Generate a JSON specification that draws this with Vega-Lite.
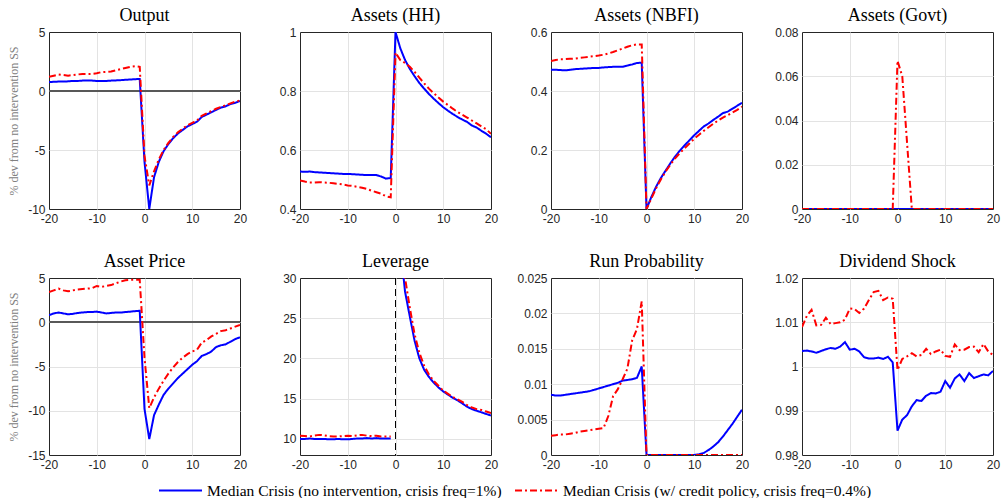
{
  "$schema": "https://vega.github.io/schema/vega-lite/v6.json",
  "padding": {"left": 7, "top": 6, "right": 0, "bottom": 28},
  "autosize": {"type": "pad"},
  "background": "white",
  "config": {
    "view": {"stroke": "#262626", "strokeWidth": 1},
    "title": {"font": "Liberation Serif", "fontSize": 18, "fontWeight": "normal", "color": "#000000", "offset": 1},
    "axis": {"labelFont": "Liberation Sans", "labelFontSize": 12, "labelColor": "#262626", "domain": false, "ticks": false, "grid": true, "gridColor": "#e3e3e3", "gridWidth": 1, "labelPadding": 4, "title": null},
    "axisX": {"labelFlush": false, "labelPadding": 4, "gridOpacity": {"condition": {"test": "abs(datum.value) == 20", "value": 0}, "value": 1}},
    "axisY": {"titleFont": "Liberation Serif", "titleFontSize": 12, "titleColor": "#808080", "titleFontWeight": "normal", "titlePadding": 7}
  },
  "data": {"values": [
    {"p":"O","t":-20,"a":0.75,"b":1.2},{"p":"O","t":-19,"a":0.78,"b":1.3},{"p":"O","t":-18,"a":0.8,"b":1.4},{"p":"O","t":-17,"a":0.8,"b":1.35},{"p":"O","t":-16,"a":0.82,"b":1.3},{"p":"O","t":-15,"a":0.85,"b":1.35},{"p":"O","t":-14,"a":0.85,"b":1.4},{"p":"O","t":-13,"a":0.88,"b":1.45},{"p":"O","t":-12,"a":0.9,"b":1.45},{"p":"O","t":-11,"a":0.88,"b":1.45},{"p":"O","t":-10,"a":0.85,"b":1.5},{"p":"O","t":-9,"a":0.85,"b":1.6},{"p":"O","t":-8,"a":0.85,"b":1.62},{"p":"O","t":-7,"a":0.88,"b":1.65},{"p":"O","t":-6,"a":0.9,"b":1.75},{"p":"O","t":-5,"a":0.92,"b":1.85},{"p":"O","t":-4,"a":0.95,"b":1.95},{"p":"O","t":-3,"a":0.97,"b":2.05},{"p":"O","t":-2,"a":1.0,"b":2.1},{"p":"O","t":-1,"a":1.02,"b":2.05},
    {"p":"O","t":0,"a":-6.0,"b":-5.5},{"p":"O","t":1,"a":-10,"b":-8.0},{"p":"O","t":2,"a":-7.3,"b":-6.8},{"p":"O","t":3,"a":-6.0,"b":-5.8},{"p":"O","t":4,"a":-5.1,"b":-5.0},{"p":"O","t":5,"a":-4.5,"b":-4.4},{"p":"O","t":6,"a":-4.0,"b":-3.9},{"p":"O","t":7,"a":-3.6,"b":-3.5},{"p":"O","t":8,"a":-3.3,"b":-3.2},{"p":"O","t":9,"a":-3.0,"b":-2.9},{"p":"O","t":10,"a":-2.8,"b":-2.7},{"p":"O","t":11,"a":-2.6,"b":-2.5},{"p":"O","t":12,"a":-2.2,"b":-2.1},{"p":"O","t":13,"a":-2.0,"b":-1.9},{"p":"O","t":14,"a":-1.8,"b":-1.7},{"p":"O","t":15,"a":-1.6,"b":-1.5},{"p":"O","t":16,"a":-1.4,"b":-1.35},{"p":"O","t":17,"a":-1.3,"b":-1.2},{"p":"O","t":18,"a":-1.1,"b":-1.05},{"p":"O","t":19,"a":-1.0,"b":-0.9},{"p":"O","t":20,"a":-0.85,"b":-0.8},

    {"p":"HH","t":-20,"a":0.527,"b":0.497},{"p":"HH","t":-19,"a":0.526,"b":0.493},{"p":"HH","t":-18,"a":0.527,"b":0.49},{"p":"HH","t":-17,"a":0.525,"b":0.49},{"p":"HH","t":-16,"a":0.524,"b":0.491},{"p":"HH","t":-15,"a":0.523,"b":0.49},{"p":"HH","t":-14,"a":0.522,"b":0.489},{"p":"HH","t":-13,"a":0.521,"b":0.487},{"p":"HH","t":-12,"a":0.52,"b":0.485},{"p":"HH","t":-11,"a":0.519,"b":0.483},{"p":"HH","t":-10,"a":0.519,"b":0.48},{"p":"HH","t":-9,"a":0.518,"b":0.478},{"p":"HH","t":-8,"a":0.517,"b":0.475},{"p":"HH","t":-7,"a":0.516,"b":0.472},{"p":"HH","t":-6,"a":0.515,"b":0.468},{"p":"HH","t":-5,"a":0.515,"b":0.462},{"p":"HH","t":-4,"a":0.515,"b":0.457},{"p":"HH","t":-3,"a":0.51,"b":0.452},{"p":"HH","t":-2,"a":0.503,"b":0.443},{"p":"HH","t":-1,"a":0.505,"b":0.44},
    {"p":"HH","t":0,"a":1.0,"b":0.93},{"p":"HH","t":1,"a":0.945,"b":0.905},{"p":"HH","t":2,"a":0.905,"b":0.895},{"p":"HH","t":3,"a":0.875,"b":0.882},{"p":"HH","t":4,"a":0.85,"b":0.865},{"p":"HH","t":5,"a":0.827,"b":0.845},{"p":"HH","t":6,"a":0.808,"b":0.826},{"p":"HH","t":7,"a":0.79,"b":0.808},{"p":"HH","t":8,"a":0.774,"b":0.793},{"p":"HH","t":9,"a":0.759,"b":0.778},{"p":"HH","t":10,"a":0.745,"b":0.764},{"p":"HH","t":11,"a":0.733,"b":0.752},{"p":"HH","t":12,"a":0.722,"b":0.74},{"p":"HH","t":13,"a":0.712,"b":0.729},{"p":"HH","t":14,"a":0.703,"b":0.719},{"p":"HH","t":15,"a":0.695,"b":0.71},{"p":"HH","t":16,"a":0.683,"b":0.7},{"p":"HH","t":17,"a":0.676,"b":0.69},{"p":"HH","t":18,"a":0.665,"b":0.68},{"p":"HH","t":19,"a":0.655,"b":0.67},{"p":"HH","t":20,"a":0.643,"b":0.655},

    {"p":"NB","t":-20,"a":0.472,"b":0.502},{"p":"NB","t":-19,"a":0.472,"b":0.505},{"p":"NB","t":-18,"a":0.471,"b":0.508},{"p":"NB","t":-17,"a":0.47,"b":0.508},{"p":"NB","t":-16,"a":0.472,"b":0.509},{"p":"NB","t":-15,"a":0.474,"b":0.51},{"p":"NB","t":-14,"a":0.475,"b":0.512},{"p":"NB","t":-13,"a":0.476,"b":0.514},{"p":"NB","t":-12,"a":0.477,"b":0.516},{"p":"NB","t":-11,"a":0.478,"b":0.518},{"p":"NB","t":-10,"a":0.478,"b":0.52},{"p":"NB","t":-9,"a":0.48,"b":0.523},{"p":"NB","t":-8,"a":0.481,"b":0.527},{"p":"NB","t":-7,"a":0.482,"b":0.532},{"p":"NB","t":-6,"a":0.482,"b":0.538},{"p":"NB","t":-5,"a":0.482,"b":0.544},{"p":"NB","t":-4,"a":0.486,"b":0.55},{"p":"NB","t":-3,"a":0.49,"b":0.555},{"p":"NB","t":-2,"a":0.495,"b":0.558},{"p":"NB","t":-1,"a":0.496,"b":0.558},
    {"p":"NB","t":0,"a":0,"b":0},{"p":"NB","t":1,"a":0.04,"b":0.035},{"p":"NB","t":2,"a":0.075,"b":0.07},{"p":"NB","t":3,"a":0.105,"b":0.1},{"p":"NB","t":4,"a":0.13,"b":0.127},{"p":"NB","t":5,"a":0.155,"b":0.15},{"p":"NB","t":6,"a":0.178,"b":0.172},{"p":"NB","t":7,"a":0.198,"b":0.19},{"p":"NB","t":8,"a":0.216,"b":0.206},{"p":"NB","t":9,"a":0.233,"b":0.222},{"p":"NB","t":10,"a":0.25,"b":0.238},{"p":"NB","t":11,"a":0.265,"b":0.252},{"p":"NB","t":12,"a":0.28,"b":0.265},{"p":"NB","t":13,"a":0.29,"b":0.277},{"p":"NB","t":14,"a":0.302,"b":0.289},{"p":"NB","t":15,"a":0.313,"b":0.3},{"p":"NB","t":16,"a":0.325,"b":0.31},{"p":"NB","t":17,"a":0.33,"b":0.318},{"p":"NB","t":18,"a":0.34,"b":0.327},{"p":"NB","t":19,"a":0.35,"b":0.336},{"p":"NB","t":20,"a":0.36,"b":0.347},

    {"p":"G","t":-20,"a":0,"b":0},{"p":"G","t":-19,"a":0,"b":0},{"p":"G","t":-18,"a":0,"b":0},{"p":"G","t":-17,"a":0,"b":0},{"p":"G","t":-16,"a":0,"b":0},{"p":"G","t":-15,"a":0,"b":0},{"p":"G","t":-14,"a":0,"b":0},{"p":"G","t":-13,"a":0,"b":0},{"p":"G","t":-12,"a":0,"b":0},{"p":"G","t":-11,"a":0,"b":0},{"p":"G","t":-10,"a":0,"b":0},{"p":"G","t":-9,"a":0,"b":0},{"p":"G","t":-8,"a":0,"b":0},{"p":"G","t":-7,"a":0,"b":0},{"p":"G","t":-6,"a":0,"b":0},{"p":"G","t":-5,"a":0,"b":0},{"p":"G","t":-4,"a":0,"b":0},{"p":"G","t":-3,"a":0,"b":0},{"p":"G","t":-2,"a":0,"b":0},{"p":"G","t":-1,"a":0,"b":0},
    {"p":"G","t":0,"a":0,"b":0.067},{"p":"G","t":1,"a":0,"b":0.06},{"p":"G","t":2,"a":0,"b":0.03},{"p":"G","t":3,"a":0,"b":0},{"p":"G","t":4,"a":0,"b":0},{"p":"G","t":5,"a":0,"b":0},{"p":"G","t":6,"a":0,"b":0},{"p":"G","t":7,"a":0,"b":0},{"p":"G","t":8,"a":0,"b":0},{"p":"G","t":9,"a":0,"b":0},{"p":"G","t":10,"a":0,"b":0},{"p":"G","t":11,"a":0,"b":0},{"p":"G","t":12,"a":0,"b":0},{"p":"G","t":13,"a":0,"b":0},{"p":"G","t":14,"a":0,"b":0},{"p":"G","t":15,"a":0,"b":0},{"p":"G","t":16,"a":0,"b":0},{"p":"G","t":17,"a":0,"b":0},{"p":"G","t":18,"a":0,"b":0},{"p":"G","t":19,"a":0,"b":0},{"p":"G","t":20,"a":0,"b":0},

    {"p":"AP","t":-20,"a":0.8,"b":3.4},{"p":"AP","t":-19,"a":1.0,"b":3.6},{"p":"AP","t":-18,"a":1.1,"b":3.8},{"p":"AP","t":-17,"a":1.0,"b":3.6},{"p":"AP","t":-16,"a":0.9,"b":3.5},{"p":"AP","t":-15,"a":0.95,"b":3.6},{"p":"AP","t":-14,"a":1.05,"b":3.7},{"p":"AP","t":-13,"a":1.1,"b":3.75},{"p":"AP","t":-12,"a":1.15,"b":3.8},{"p":"AP","t":-11,"a":1.15,"b":3.85},{"p":"AP","t":-10,"a":1.2,"b":4.1},{"p":"AP","t":-9,"a":1.1,"b":4.0},{"p":"AP","t":-8,"a":1.0,"b":4.1},{"p":"AP","t":-7,"a":1.05,"b":4.2},{"p":"AP","t":-6,"a":1.1,"b":4.4},{"p":"AP","t":-5,"a":1.1,"b":4.6},{"p":"AP","t":-4,"a":1.15,"b":4.75},{"p":"AP","t":-3,"a":1.2,"b":4.8},{"p":"AP","t":-2,"a":1.25,"b":4.8},{"p":"AP","t":-1,"a":1.3,"b":4.8},
    {"p":"AP","t":0,"a":-9.8,"b":-4.0},{"p":"AP","t":1,"a":-13.2,"b":-9.7},{"p":"AP","t":2,"a":-10.5,"b":-8.5},{"p":"AP","t":3,"a":-9.3,"b":-7.5},{"p":"AP","t":4,"a":-8.2,"b":-6.6},{"p":"AP","t":5,"a":-7.5,"b":-5.8},{"p":"AP","t":6,"a":-6.9,"b":-5.1},{"p":"AP","t":7,"a":-6.3,"b":-4.5},{"p":"AP","t":8,"a":-5.8,"b":-4.0},{"p":"AP","t":9,"a":-5.3,"b":-3.6},{"p":"AP","t":10,"a":-4.8,"b":-3.3},{"p":"AP","t":11,"a":-4.4,"b":-3.1},{"p":"AP","t":12,"a":-3.8,"b":-2.3},{"p":"AP","t":13,"a":-3.6,"b":-2.0},{"p":"AP","t":14,"a":-3.3,"b":-1.6},{"p":"AP","t":15,"a":-2.8,"b":-1.3},{"p":"AP","t":16,"a":-2.6,"b":-1.0},{"p":"AP","t":17,"a":-2.5,"b":-0.9},{"p":"AP","t":18,"a":-2.2,"b":-0.7},{"p":"AP","t":19,"a":-1.9,"b":-0.5},{"p":"AP","t":20,"a":-1.7,"b":-0.3},

    {"p":"L","t":-20,"a":10.0,"b":10.4},{"p":"L","t":-19,"a":10.0,"b":10.35},{"p":"L","t":-18,"a":10.05,"b":10.3},{"p":"L","t":-17,"a":10.0,"b":10.4},{"p":"L","t":-16,"a":10.0,"b":10.5},{"p":"L","t":-15,"a":10.0,"b":10.45},{"p":"L","t":-14,"a":9.95,"b":10.35},{"p":"L","t":-13,"a":9.95,"b":10.3},{"p":"L","t":-12,"a":10.0,"b":10.3},{"p":"L","t":-11,"a":9.95,"b":10.35},{"p":"L","t":-10,"a":9.95,"b":10.4},{"p":"L","t":-9,"a":10.0,"b":10.35},{"p":"L","t":-8,"a":10.05,"b":10.45},{"p":"L","t":-7,"a":10.05,"b":10.5},{"p":"L","t":-6,"a":10.1,"b":10.4},{"p":"L","t":-5,"a":10.05,"b":10.35},{"p":"L","t":-4,"a":10.1,"b":10.4},{"p":"L","t":-3,"a":10.05,"b":10.3},{"p":"L","t":-2,"a":10.05,"b":10.3},{"p":"L","t":-1,"a":10.05,"b":10.3},
    {"p":"L","t":0,"a":null,"b":null},{"p":"L","t":1,"a":34,"b":37},{"p":"L","t":2,"a":28.3,"b":30},{"p":"L","t":3,"a":25.2,"b":26.3},{"p":"L","t":4,"a":22.2,"b":23},{"p":"L","t":5,"a":20.0,"b":20.7},{"p":"L","t":6,"a":18.6,"b":19.1},{"p":"L","t":7,"a":17.7,"b":18.0},{"p":"L","t":8,"a":17.0,"b":17.2},{"p":"L","t":9,"a":16.4,"b":16.6},{"p":"L","t":10,"a":15.9,"b":16.0},{"p":"L","t":11,"a":15.5,"b":15.6},{"p":"L","t":12,"a":15.1,"b":15.2},{"p":"L","t":13,"a":14.8,"b":14.9},{"p":"L","t":14,"a":14.4,"b":14.6},{"p":"L","t":15,"a":14.0,"b":14.2},{"p":"L","t":16,"a":13.7,"b":13.9},{"p":"L","t":17,"a":13.5,"b":13.7},{"p":"L","t":18,"a":13.3,"b":13.6},{"p":"L","t":19,"a":13.1,"b":13.4},{"p":"L","t":20,"a":12.9,"b":13.2},

    {"p":"RP","t":-20,"a":0.0085,"b":0.0027},{"p":"RP","t":-19,"a":0.0084,"b":0.0028},{"p":"RP","t":-18,"a":0.0084,"b":0.0029},{"p":"RP","t":-17,"a":0.0085,"b":0.0029},{"p":"RP","t":-16,"a":0.0086,"b":0.003},{"p":"RP","t":-15,"a":0.0087,"b":0.0031},{"p":"RP","t":-14,"a":0.0088,"b":0.0033},{"p":"RP","t":-13,"a":0.0089,"b":0.0034},{"p":"RP","t":-12,"a":0.009,"b":0.0035},{"p":"RP","t":-11,"a":0.0092,"b":0.0036},{"p":"RP","t":-10,"a":0.0094,"b":0.0037},{"p":"RP","t":-9,"a":0.0096,"b":0.0038},{"p":"RP","t":-8,"a":0.0098,"b":0.0055},{"p":"RP","t":-7,"a":0.01,"b":0.0083},{"p":"RP","t":-6,"a":0.0102,"b":0.0093},{"p":"RP","t":-5,"a":0.0105,"b":0.0107},{"p":"RP","t":-4,"a":0.0106,"b":0.0122},{"p":"RP","t":-3,"a":0.0107,"b":0.0162},{"p":"RP","t":-2,"a":0.0109,"b":0.0178},{"p":"RP","t":-1,"a":0.0125,"b":0.0217},
    {"p":"RP","t":0,"a":0,"b":0},{"p":"RP","t":1,"a":0,"b":0},{"p":"RP","t":2,"a":0,"b":0},{"p":"RP","t":3,"a":0,"b":0},{"p":"RP","t":4,"a":0,"b":0},{"p":"RP","t":5,"a":0,"b":0},{"p":"RP","t":6,"a":0,"b":0},{"p":"RP","t":7,"a":0,"b":0},{"p":"RP","t":8,"a":0,"b":0},{"p":"RP","t":9,"a":0,"b":0},{"p":"RP","t":10,"a":0,"b":0},{"p":"RP","t":11,"a":0.0001,"b":0},{"p":"RP","t":12,"a":0.0003,"b":0},{"p":"RP","t":13,"a":0.0007,"b":0},{"p":"RP","t":14,"a":0.0012,"b":0},{"p":"RP","t":15,"a":0.0018,"b":0},{"p":"RP","t":16,"a":0.0026,"b":0},{"p":"RP","t":17,"a":0.0035,"b":0},{"p":"RP","t":18,"a":0.0044,"b":0},{"p":"RP","t":19,"a":0.0054,"b":0},{"p":"RP","t":20,"a":0.0064,"b":0},

    {"p":"D","t":-20,"a":1.0035,"b":1.0089},{"p":"D","t":-19,"a":1.0036,"b":1.0114},{"p":"D","t":-18,"a":1.0034,"b":1.0128},{"p":"D","t":-17,"a":1.0031,"b":1.0093},{"p":"D","t":-16,"a":1.0035,"b":1.0094},{"p":"D","t":-15,"a":1.0039,"b":1.011},{"p":"D","t":-14,"a":1.0042,"b":1.0096},{"p":"D","t":-13,"a":1.004,"b":1.0098},{"p":"D","t":-12,"a":1.0045,"b":1.01},{"p":"D","t":-11,"a":1.0055,"b":1.0106},{"p":"D","t":-10,"a":1.0038,"b":1.0131},{"p":"D","t":-9,"a":1.004,"b":1.013},{"p":"D","t":-8,"a":1.0034,"b":1.0121},{"p":"D","t":-7,"a":1.0021,"b":1.0131},{"p":"D","t":-6,"a":1.0018,"b":1.015},{"p":"D","t":-5,"a":1.0018,"b":1.0168},{"p":"D","t":-4,"a":1.002,"b":1.0171},{"p":"D","t":-3,"a":1.0017,"b":1.015},{"p":"D","t":-2,"a":1.0022,"b":1.0156},{"p":"D","t":-1,"a":1.0009,"b":1.0153},
    {"p":"D","t":0,"a":0.9855,"b":0.9992},{"p":"D","t":1,"a":0.988,"b":1.0017},{"p":"D","t":2,"a":0.989,"b":1.0023},{"p":"D","t":3,"a":0.991,"b":1.003},{"p":"D","t":4,"a":0.9924,"b":1.0023},{"p":"D","t":5,"a":0.9922,"b":1.0026},{"p":"D","t":6,"a":0.9934,"b":1.004},{"p":"D","t":7,"a":0.994,"b":1.0028},{"p":"D","t":8,"a":0.9939,"b":1.0034},{"p":"D","t":9,"a":0.9943,"b":1.0038},{"p":"D","t":10,"a":0.9967,"b":1.0024},{"p":"D","t":11,"a":0.9952,"b":1.0022},{"p":"D","t":12,"a":0.9973,"b":1.005},{"p":"D","t":13,"a":0.9982,"b":1.0037},{"p":"D","t":14,"a":0.9967,"b":1.0038},{"p":"D","t":15,"a":0.9985,"b":1.0044},{"p":"D","t":16,"a":0.9974,"b":1.0045},{"p":"D","t":17,"a":0.9978,"b":1.0032},{"p":"D","t":18,"a":0.9982,"b":1.0051},{"p":"D","t":19,"a":0.998,"b":1.0034},{"p":"D","t":20,"a":0.999,"b":1.0026}
  ]},
  "transform": [{"fold": ["a", "b"], "as": ["s", "v"]}],
  "columns": 4,
  "bounds": "flush",
  "spacing": {"row": 69, "column": 60},
  "concat": [
    {
      "width": 191, "height": 177, "title": "Output",
      "transform": [{"filter": "datum.p == 'O'"}],
      "layer": [
        {"mark": {"type": "rule", "color": "#595959", "strokeWidth": 1.5}, "encoding": {"y": {"datum": 0, "type": "quantitative", "axis": {"title": "% dev from no intervention SS"}}}},
        {"mark": {"type": "line", "strokeWidth": 2, "clip": true}, "encoding": {
          "x": {"field": "t", "type": "quantitative", "scale": {"domain": [-20, 20], "nice": false}, "axis": {"values": [-20, -10, 0, 10, 20], "labelExpr": "'' + datum.value"}},
          "y": {"field": "v", "type": "quantitative", "scale": {"domain": [-10, 5], "nice": false, "zero": false}, "axis": {"values": [-10, -5, 0, 5], "labelExpr": "'' + datum.value", "title": "% dev from no intervention SS", "gridOpacity": {"condition": {"test": "datum.value == -10 || datum.value == 5", "value": 0}, "value": 1}}},
          "color": {"field": "s", "type": "nominal", "scale": {"domain": ["a", "b"], "range": ["#0000ff", "#ff0000"]}, "legend": {"orient": "none", "legendX": 109, "legendY": 436, "direction": "horizontal", "title": null, "labelFont": "Liberation Serif", "labelFontSize": 15.5, "labelColor": "#000000", "symbolSize": 1849, "symbolStrokeWidth": 2, "labelOffset": 4, "columnPadding": 9, "labelLimit": 400, "labelExpr": "datum.label == 'a' ? 'Median Crisis (no intervention, crisis freq=1%)' : 'Median Crisis (w/ credit policy, crisis freq=0.4%)'"}},
          "strokeDash": {"field": "s", "type": "nominal", "scale": {"domain": ["a", "b"], "range": [[1, 0], [7, 3, 2, 3]]}}
        }}
      ]
    },
    {
      "width": 191, "height": 177, "title": "Assets (HH)",
      "transform": [{"filter": "datum.p == 'HH'"}],
      "mark": {"type": "line", "strokeWidth": 2, "clip": true},
      "encoding": {
        "x": {"field": "t", "type": "quantitative", "scale": {"domain": [-20, 20], "nice": false}, "axis": {"values": [-20, -10, 0, 10, 20], "labelExpr": "'' + datum.value"}},
        "y": {"field": "v", "type": "quantitative", "scale": {"domain": [0.4, 1], "nice": false, "zero": false}, "axis": {"values": [0.4, 0.6, 0.8, 1], "labelExpr": "'' + datum.value", "gridOpacity": {"condition": {"test": "datum.value == 0.4 || datum.value == 1", "value": 0}, "value": 1}}},
        "color": {"field": "s", "type": "nominal"},
        "strokeDash": {"field": "s", "type": "nominal"}
      }
    },
    {
      "width": 191, "height": 177, "title": "Assets (NBFI)",
      "transform": [{"filter": "datum.p == 'NB'"}],
      "mark": {"type": "line", "strokeWidth": 2, "clip": true},
      "encoding": {
        "x": {"field": "t", "type": "quantitative", "scale": {"domain": [-20, 20], "nice": false}, "axis": {"values": [-20, -10, 0, 10, 20], "labelExpr": "'' + datum.value"}},
        "y": {"field": "v", "type": "quantitative", "scale": {"domain": [0, 0.6], "nice": false}, "axis": {"values": [0, 0.2, 0.4, 0.6], "labelExpr": "'' + datum.value", "gridOpacity": {"condition": {"test": "datum.value == 0 || datum.value == 0.6", "value": 0}, "value": 1}}},
        "color": {"field": "s", "type": "nominal"},
        "strokeDash": {"field": "s", "type": "nominal"}
      }
    },
    {
      "width": 191, "height": 177, "title": "Assets (Govt)",
      "transform": [{"filter": "datum.p == 'G'"}],
      "mark": {"type": "line", "strokeWidth": 2, "clip": true},
      "encoding": {
        "x": {"field": "t", "type": "quantitative", "scale": {"domain": [-20, 20], "nice": false}, "axis": {"values": [-20, -10, 0, 10, 20], "labelExpr": "'' + datum.value"}},
        "y": {"field": "v", "type": "quantitative", "scale": {"domain": [0, 0.08], "nice": false}, "axis": {"values": [0, 0.02, 0.04, 0.06, 0.08], "labelExpr": "'' + datum.value", "gridOpacity": {"condition": {"test": "datum.value == 0 || datum.value == 0.08", "value": 0}, "value": 1}}},
        "color": {"field": "s", "type": "nominal"},
        "strokeDash": {"field": "s", "type": "nominal"}
      }
    },
    {
      "width": 191, "height": 177, "title": "Asset Price",
      "transform": [{"filter": "datum.p == 'AP'"}],
      "layer": [
        {"mark": {"type": "rule", "color": "#595959", "strokeWidth": 1.5}, "encoding": {"y": {"datum": 0, "type": "quantitative", "axis": {"title": "% dev from no intervention SS"}}}},
        {"mark": {"type": "line", "strokeWidth": 2, "clip": true}, "encoding": {
          "x": {"field": "t", "type": "quantitative", "scale": {"domain": [-20, 20], "nice": false}, "axis": {"values": [-20, -10, 0, 10, 20], "labelExpr": "'' + datum.value"}},
          "y": {"field": "v", "type": "quantitative", "scale": {"domain": [-15, 5], "nice": false, "zero": false}, "axis": {"values": [-15, -10, -5, 0, 5], "labelExpr": "'' + datum.value", "title": "% dev from no intervention SS", "gridOpacity": {"condition": {"test": "datum.value == -15 || datum.value == 5", "value": 0}, "value": 1}}},
          "color": {"field": "s", "type": "nominal"},
          "strokeDash": {"field": "s", "type": "nominal"}
        }}
      ]
    },
    {
      "width": 191, "height": 177, "title": "Leverage",
      "transform": [{"filter": "datum.p == 'L'"}],
      "layer": [
        {"mark": {"type": "line", "strokeWidth": 2, "clip": true, "invalid": "break-paths-filter-domains"}, "encoding": {
          "x": {"field": "t", "type": "quantitative", "scale": {"domain": [-20, 20], "nice": false}, "axis": {"values": [-20, -10, 0, 10, 20], "labelExpr": "'' + datum.value"}},
          "y": {"field": "v", "type": "quantitative", "scale": {"domain": [8, 30], "nice": false, "zero": false}, "axis": {"values": [10, 15, 20, 25, 30], "labelExpr": "'' + datum.value", "gridOpacity": {"condition": {"test": "datum.value == 30", "value": 0}, "value": 1}}},
          "color": {"field": "s", "type": "nominal"},
          "strokeDash": {"field": "s", "type": "nominal"}
        }},
        {"mark": {"type": "rule", "color": "#000000", "strokeWidth": 1, "strokeDash": [7, 4]}, "encoding": {"x": {"datum": 0, "type": "quantitative"}}}
      ]
    },
    {
      "width": 191, "height": 177, "title": "Run Probability",
      "transform": [{"filter": "datum.p == 'RP'"}],
      "mark": {"type": "line", "strokeWidth": 2, "clip": true},
      "encoding": {
        "x": {"field": "t", "type": "quantitative", "scale": {"domain": [-20, 20], "nice": false}, "axis": {"values": [-20, -10, 0, 10, 20], "labelExpr": "'' + datum.value"}},
        "y": {"field": "v", "type": "quantitative", "scale": {"domain": [0, 0.025], "nice": false}, "axis": {"values": [0, 0.005, 0.01, 0.015, 0.02, 0.025], "labelExpr": "'' + datum.value", "gridOpacity": {"condition": {"test": "datum.value == 0 || datum.value == 0.025", "value": 0}, "value": 1}}},
        "color": {"field": "s", "type": "nominal"},
        "strokeDash": {"field": "s", "type": "nominal"}
      }
    },
    {
      "width": 191, "height": 177, "title": "Dividend Shock",
      "transform": [{"filter": "datum.p == 'D'"}],
      "mark": {"type": "line", "strokeWidth": 2, "clip": true},
      "encoding": {
        "x": {"field": "t", "type": "quantitative", "scale": {"domain": [-20, 20], "nice": false}, "axis": {"values": [-20, -10, 0, 10, 20], "labelExpr": "'' + datum.value"}},
        "y": {"field": "v", "type": "quantitative", "scale": {"domain": [0.98, 1.02], "nice": false, "zero": false}, "axis": {"values": [0.98, 0.99, 1, 1.01, 1.02], "labelExpr": "'' + datum.value", "gridOpacity": {"condition": {"test": "datum.value == 0.98 || datum.value == 1.02", "value": 0}, "value": 1}}},
        "color": {"field": "s", "type": "nominal"},
        "strokeDash": {"field": "s", "type": "nominal"}
      }
    }
  ]
}
